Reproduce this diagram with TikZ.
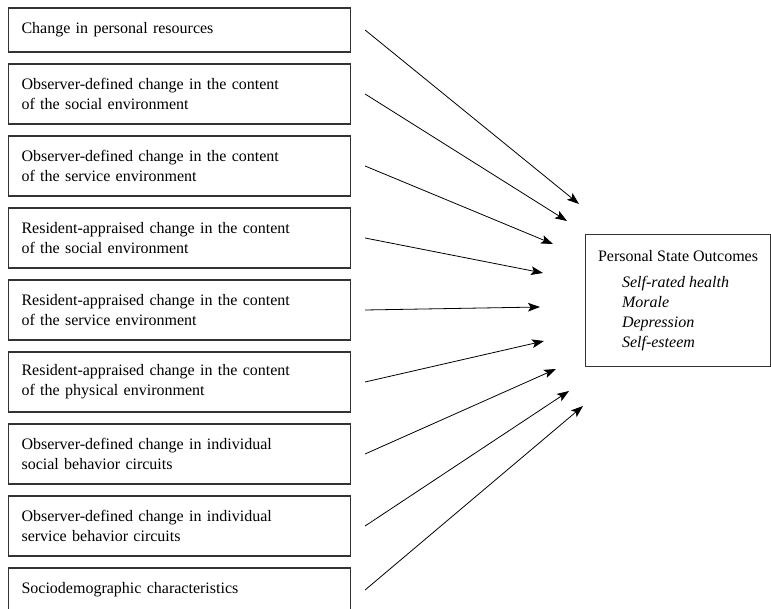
\documentclass[tikz,border=0pt]{standalone}
\usepackage{fontspec}
\setmainfont{Liberation Serif}
\usetikzlibrary{arrows.meta}

\begin{document}
\begin{tikzpicture}[x=0.75pt, y=-0.75pt, >={Stealth[length=9pt,width=6.5pt,inset=2pt]}, every node/.append style={font=\fontsize{12}{15}\selectfont}]
    \tikzstyle{factor}=[rectangle, draw=black!80, line width=0.8pt, anchor=west, text width=237pt, inner xsep=9.75pt, align=left]
    \tikzstyle{outcome}=[rectangle, draw=black!80, line width=0.8pt, anchor=north west, minimum width=138.75pt, inner xsep=9pt, minimum height=99pt, align=left]
    \tikzstyle{link}=[->, line width=0.6pt]

    \useasboundingbox (0,0) rectangle (771,609);

    % Draw the column of factor boxes
    \foreach \name / \y / \h / \txt in {
        1/30/33pt/{Change in personal resources},
        2/94/45pt/{Observer-defined change in the content\\of the social environment},
        3/166/45pt/{Observer-defined change in the content\\of the service environment},
        4/238/45pt/{Resident-appraised change in the content\\of the social environment},
        5/310/45pt/{Resident-appraised change in the content\\of the service environment},
        6/382/45pt/{Resident-appraised change in the content\\of the physical environment},
        7/454/45pt/{Observer-defined change in individual\\social behavior circuits},
        8/526/45pt/{Observer-defined change in individual\\service behavior circuits},
        9/590/33pt/{Sociodemographic characteristics}}
        \node[factor, minimum height=\h] (F-\name) at (8,\y) {\txt};

    % Draw the outcome box
    \node[outcome] (O) at (585,234) {Personal State Outcomes\\[5pt]
        \hspace*{18pt}\textit{Self-rated health}\\
        \hspace*{18pt}\textit{Morale}\\
        \hspace*{18pt}\textit{Depression}\\
        \hspace*{18pt}\textit{Self-esteem}};

    % Arrow tails and tips
    \foreach \name / \x / \y in {1/579/204, 2/567/221, 3/553/244, 4/543/273, 5/540/307,
                                  6/544/341, 7/556/369, 8/569/391, 9/583/406} {
        \coordinate (S-\name) at ([xshift=10.5pt]F-\name.east);
        \coordinate (T-\name) at (\x,\y);
    }

    % Connect every factor with the outcomes
    \foreach \name in {1,...,9}
        \draw[link] (S-\name) -- (T-\name);
\end{tikzpicture}
\end{document}
